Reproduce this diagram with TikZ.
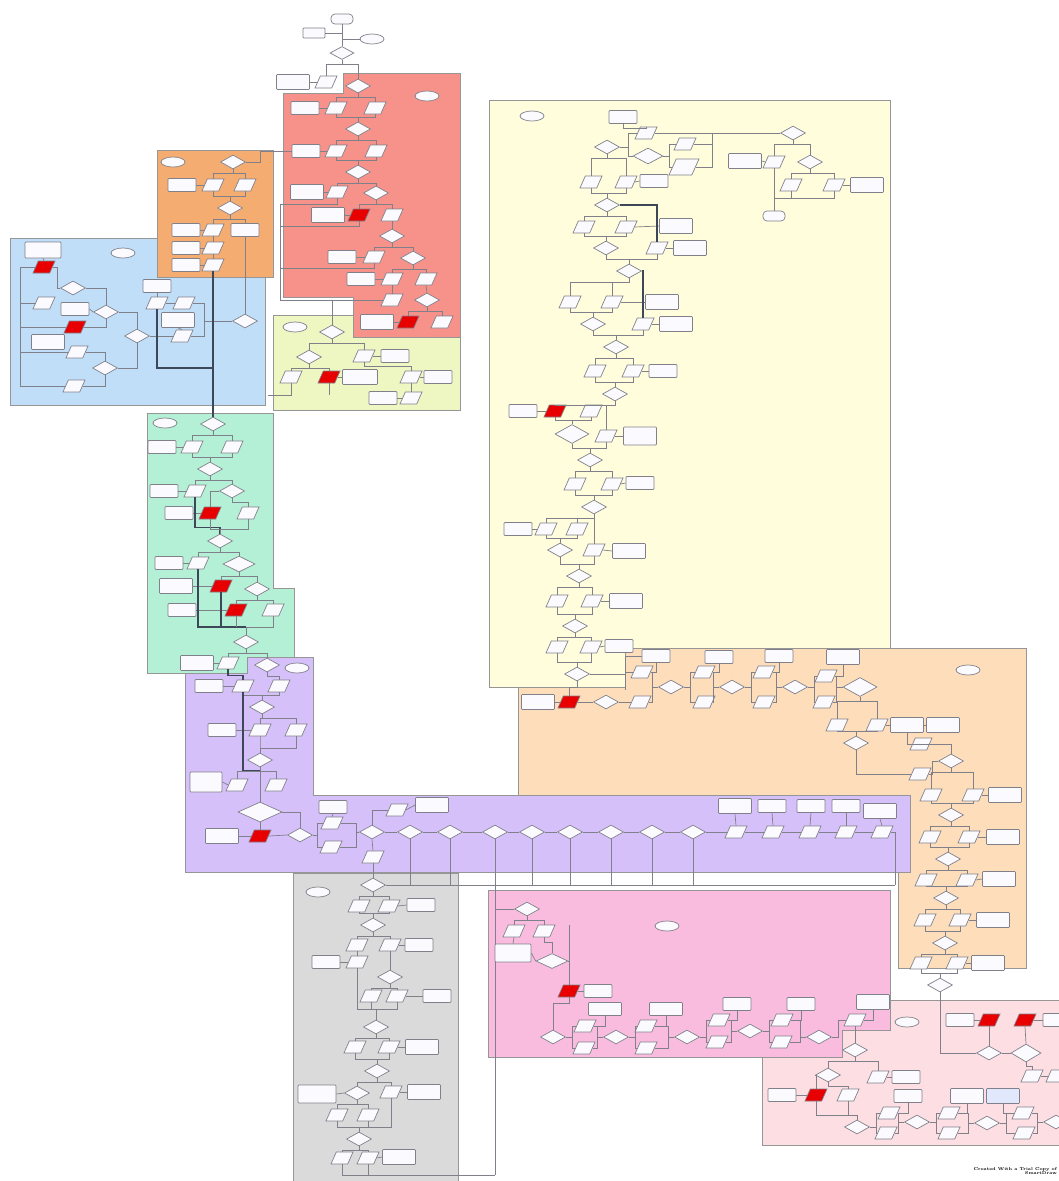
\documentclass[tikz,border=0pt]{standalone}
\usetikzlibrary{shapes.geometric,calc}
\definecolor{lineg}{RGB}{128,128,138}
\definecolor{regb}{RGB}{150,150,150}
\definecolor{thkc}{RGB}{60,72,88}
\definecolor{nfill}{RGB}{251,251,255}
\definecolor{cred}{RGB}{246,146,138}
\definecolor{corange}{RGB}{245,172,112}
\definecolor{cblue}{RGB}{192,222,248}
\definecolor{clgreen}{RGB}{238,246,194}
\definecolor{cyellow}{RGB}{255,253,220}
\definecolor{cmint}{RGB}{180,240,214}
\definecolor{cpurple}{RGB}{214,192,250}
\definecolor{cpeach}{RGB}{253,221,186}
\definecolor{cgrey}{RGB}{218,218,218}
\definecolor{cpink}{RGB}{250,188,222}
\definecolor{clpink}{RGB}{253,222,226}
\definecolor{rpfill}{RGB}{232,0,0}
\definecolor{lbfill}{RGB}{226,232,252}
\tikzset{
 region/.style={draw=regb, line width=1pt},
 nbase/.style={draw=lineg, line width=0.7pt, inner sep=1pt, fill=nfill},
 bx/.style={nbase, rectangle, rounded corners=0.8pt, minimum width=28pt, minimum height=13pt},
 wbx/.style={bx, minimum width=33pt, minimum height=15pt},
 pa/.style={nbase, trapezium, trapezium left angle=65, trapezium right angle=115, trapezium stretches=true, minimum width=22pt, minimum height=12pt},
 rp/.style={pa, fill=rpfill},
 di/.style={nbase, diamond, minimum width=25pt, minimum height=14pt},
 bigdi/.style={di, minimum width=34pt, minimum height=19pt},
 el/.style={nbase, ellipse, minimum width=24pt, minimum height=10pt},
 term/.style={nbase, rectangle, rounded corners=4pt, minimum width=22pt, minimum height=10pt},
 ln/.style={draw=lineg, line width=0.7pt},
 thk/.style={draw=thkc, line width=1.6pt},
}
\newcommand\xsplit[2]{\draw[ln] (#1.south) -- ([yshift=-4pt]#1.south) -| (#2.north);}
\newcommand\xmerge[2]{\draw[ln] (#1.south) |- ([yshift=4pt]#2.north) -- (#2.north);}
\newcommand\xlink[2]{\draw[ln] (#1) -- (#2);}
\newcommand\xin[2]{\draw[ln] (#1.east) -| ([xshift=-6pt]#2.west) -- (#2.west);}
\newcommand\xout[2]{\draw[ln] (#1.east) -- ([xshift=6pt]#1.east) |- (#2.west);}
\newcommand\xdrop[2]{\draw[ln] (#1.south) |- (#2.east);}
\begin{document}
\begin{tikzpicture}[x=1pt,y=-1pt]
\useasboundingbox (0,0) rectangle (1059,1181);
\fill[white] (0,0) rectangle (1059,1181);
% ---------------- regions ----------------
\filldraw[region, fill=clpink] (762,1000) rectangle (1064,1145);
\filldraw[region, fill=cpink] (488,890) -- (890,890) -- (890,1030) -- (842,1030) -- (842,1057) -- (488,1057) -- cycle;
\filldraw[region, fill=cgrey] (293,873) rectangle (458,1190);
\filldraw[region, fill=cpeach] (518,648) -- (1026,648) -- (1026,968) -- (898,968) -- (898,795) -- (518,795) -- cycle;
\filldraw[region, fill=cyellow] (489,100) -- (890,100) -- (890,648) -- (625,648) -- (625,687) -- (489,687) -- cycle;
\filldraw[region, fill=cpurple] (247,657) -- (313,657) -- (313,795) -- (910,795) -- (910,872) -- (185,872) -- (185,673) -- (247,673) -- cycle;
\filldraw[region, fill=cblue] (10,238) rectangle (265,405);
\filldraw[region, fill=corange] (157,150) rectangle (273,277);
\filldraw[region, fill=clgreen] (273,315) rectangle (460,410);
\filldraw[region, fill=cred] (343,73) -- (460,73) -- (460,337) -- (353,337) -- (353,297) -- (283,297) -- (283,93) -- (343,93) -- cycle;
\filldraw[region, fill=cmint] (147,413) -- (273,413) -- (273,588) -- (294,588) -- (294,657) -- (247,657) -- (247,673) -- (147,673) -- cycle;
% ---------------- top ----------------
\node[term] (t0) at (342,19) {};
\node[bx, minimum width=22pt, minimum height=10pt] (t1) at (314,33) {};
\node[el, minimum width=24pt] (t2) at (372,39) {};
\node[di, minimum width=24pt, minimum height=13pt] (t3) at (342,53) {};
\xlink{t0.south}{t3.north}
\draw[ln] (t1.east) -- (t1.east -| t0.south);
\draw[ln] (t2.west) -- (t2.west -| t0.south);
% ---------------- red ----------------
\node[wbx] (r1) at (293,82) {};
\node[pa] (r2) at (326,82) {};
\node[di] (r3) at (358,86) {};
\node[el] (r0) at (427,96) {};
\node[bx] (r4) at (305,108) {};
\node[pa] (r5) at (336,108) {};
\node[pa] (r6) at (375,108) {};
\node[di] (r7) at (358,129) {};
\node[bx] (r8) at (306,151) {};
\node[pa] (r9) at (336,151) {};
\node[pa] (r10) at (376,151) {};
\node[di] (r11) at (358,172) {};
\node[wbx] (r12) at (307,192) {};
\node[pa] (r13) at (337,192) {};
\node[di] (r14) at (376,193) {};
\node[wbx] (r15) at (328,215) {};
\node[rp] (r16) at (359,215) {};
\node[pa] (r17) at (392,215) {};
\node[di] (r18) at (392,236) {};
\node[bx] (r19) at (342,257) {};
\node[pa] (r20) at (374,257) {};
\node[di] (r21) at (413,258) {};
\node[bx] (r22) at (361,279) {};
\node[pa] (r23) at (392,279) {};
\node[pa] (r24) at (426,279) {};
\node[pa] (r25) at (392,300) {};
\node[di] (r26) at (427,300) {};
\node[wbx] (r27) at (377,322) {};
\node[rp] (r28) at (408,322) {};
\node[pa] (r29) at (442,322) {};
\xsplit{t3}{r2} \xsplit{t3}{r3} \xlink{r1.east}{r2.west}
\xsplit{r3}{r5} \xsplit{r3}{r6} \xlink{r4.east}{r5.west}
\xmerge{r5}{r7} \xmerge{r6}{r7}
\xsplit{r7}{r9} \xsplit{r7}{r10} \xlink{r8.east}{r9.west}
\xmerge{r9}{r11} \xmerge{r10}{r11}
\xsplit{r11}{r13} \xsplit{r11}{r14} \xlink{r12.east}{r13.west}
\xsplit{r14}{r16} \xsplit{r14}{r17} \xlink{r15.east}{r16.west}
\xlink{r17.south}{r18.north}
\xsplit{r18}{r20} \xsplit{r18}{r21} \xlink{r19.east}{r20.west}
\xsplit{r21}{r23} \xsplit{r21}{r24} \xlink{r22.east}{r23.west}
\xlink{r23.south}{r25.north} \xlink{r24.south}{r26.north}
\xsplit{r26}{r28} \xsplit{r26}{r29} \xlink{r27.east}{r28.west}
\coordinate (ra) at (280,204);
\coordinate (rb) at (280,226);
\coordinate (rc) at (280,268);
\coordinate (rd) at (280,300);
\draw[ln] (r13.south) |- (ra);
\draw[ln] (r16.south) |- (rb);
\draw[ln] (r20.south) |- (rc);
\draw[ln] (r25.west) -- (rd);
\draw[ln] (ra) -- (rd);
% ---------------- orange ----------------
\node[el] (o0) at (173,162) {};
\node[di] (o1) at (233,162) {};
\node[bx] (o2) at (182,185) {};
\node[pa] (o3) at (213,185) {};
\node[pa] (o4) at (245,185) {};
\node[di] (o5) at (230,208) {};
\node[bx] (o6) at (186,230) {};
\node[pa] (o7) at (213,230) {};
\node[bx] (o8) at (245,230) {};
\node[bx] (o9) at (186,248) {};
\node[pa] (o10) at (213,248) {};
\node[bx] (o11) at (186,265) {};
\node[pa] (o12) at (213,265) {};
\xsplit{o1}{o3} \xsplit{o1}{o4} \xlink{o2.east}{o3.west}
\xmerge{o3}{o5} \xmerge{o4}{o5}
\xsplit{o5}{o7} \xsplit{o5}{o8} \xlink{o6.east}{o7.west}
\xlink{o7.south}{o10.north} \xlink{o9.east}{o10.west}
\xlink{o10.south}{o12.north} \xlink{o11.east}{o12.west}
\draw[ln] (o1.east) -- ([xshift=14pt]o1.east) |- (r8.west);
% ---------------- blue ----------------
\node[el] (b0) at (123,253) {};
\node[wbx, minimum width=36pt, minimum height=16pt] (b1) at (43,250) {};
\node[rp] (b2) at (44,267) {};
\node[di] (b3) at (73,288) {};
\node[pa] (b4) at (44,303) {};
\node[bx] (b5) at (75,309) {};
\node[di] (b6) at (106,312) {};
\node[rp] (b7) at (75,327) {};
\node[wbx] (b8) at (48,342) {};
\node[di] (b9) at (137,336) {};
\node[pa] (b10) at (77,352) {};
\node[di] (b11) at (105,368) {};
\node[pa] (b12) at (74,386) {};
\node[bx] (b13) at (157,286) {};
\node[pa] (b14) at (157,303) {};
\node[pa] (b15) at (184,303) {};
\node[wbx] (b16) at (178,320) {};
\node[pa] (b17) at (182,336) {};
\node[di] (b18) at (245,321) {};
\coordinate (bl1) at (20,267);
\coordinate (bl2) at (20,386);
\draw[ln] (bl1) -- (bl2);
\foreach \n in {b2,b4,b7,b10,b12} {\draw[ln] (\n.west) -- (\n.west -| bl1);}
\xlink{b1.south}{b2.north}
\draw[ln] (b2.east) -- ([xshift=5pt]b2.east) |- (b3.west);
\draw[ln] (b3.east) -| (b6.north);
\xlink{b5.east}{b6.west}
\draw[ln] (b7.east) -| (b6.south);
\draw[ln] (b6.east) -| (b9.north);
\draw[ln] (b10.east) -| (b11.north);
\draw[ln] (b12.east) -| (b11.south);
\draw[ln] (b11.east) -| (b9.south);
\draw[ln] (b9.east) -- (b17.west);
\xlink{b13.south}{b14.north}
\xlink{b14.east}{b15.west}
\xlink{b16.south}{b17.north}
\coordinate (bq) at (204,321);
\draw[ln] (b15.east) -| (bq) -- (b18.west);
\draw[ln] (b17.east) -| (bq);
\draw[ln] (o8.south) -- (b18.north);
% ---------------- light green ----------------
\node[el] (g0) at (295,327) {};
\node[di] (g1) at (332,332) {};
\node[di] (g2) at (309,357) {};
\node[pa] (g3) at (364,356) {};
\node[bx] (g7) at (395,356) {};
\node[pa] (g4) at (291,377) {};
\node[rp] (g5) at (329,377) {};
\node[wbx, minimum width=35pt] (g6) at (360,377) {};
\node[pa] (g8) at (411,377) {};
\node[bx] (g9) at (438,377) {};
\node[bx] (g10) at (383,398) {};
\node[pa] (g11) at (411,398) {};
\draw[ln] (g1.north) -- (g1.north |- rd);
\xsplit{g1}{g2} \xsplit{g1}{g3}
\xsplit{g2}{g4} \xsplit{g2}{g5}
\xlink{g5.east}{g6.west}
\xlink{g3.east}{g7.west}
\draw[ln] (g3.south) -- ([yshift=-4pt]g3.south) -| (g8.north);
\xlink{g8.east}{g9.west}
\xlink{g8.south}{g11.north}
\xlink{g10.east}{g11.west}
\coordinate (gl) at (268,395);
\draw[ln] (g4.south) |- (gl);
\draw[ln] (g5.south) -- (g5.south |- gl);
% ---------------- mint ----------------
\node[el] (m0) at (165,423) {};
\node[di] (m1) at (213,424) {};
\node[bx] (m2) at (162,447) {};
\node[pa] (m3) at (192,447) {};
\node[pa] (m4) at (232,447) {};
\node[di] (m5) at (210,469) {};
\node[bx] (m6) at (164,491) {};
\node[pa] (m7) at (195,491) {};
\node[di] (m8) at (232,491) {};
\node[bx] (m9) at (179,513) {};
\node[rp] (m10) at (210,513) {};
\node[pa] (m11) at (248,513) {};
\node[di] (m12) at (220,541) {};
\node[bx] (m13) at (169,563) {};
\node[pa] (m14) at (198,563) {};
\node[di, minimum width=32pt, minimum height=16pt] (m15) at (239,564) {};
\node[wbx] (m16) at (176,586) {};
\node[rp] (m17) at (221,586) {};
\node[di] (m18) at (257,589) {};
\node[bx] (m19) at (182,610) {};
\node[rp] (m20) at (236,610) {};
\node[pa] (m21) at (273,610) {};
\node[di] (m22) at (246,642) {};
\node[wbx] (m23) at (197,663) {};
\node[pa] (m24) at (228,663) {};
\draw[thk] (o12.south) -- (m1.north);
\coordinate (bj) at (213,368);
\draw[thk] (b14.south) |- (bj);
\xsplit{m1}{m3} \xsplit{m1}{m4} \xlink{m2.east}{m3.west}
\xmerge{m3}{m5} \xmerge{m4}{m5}
\xsplit{m5}{m7} \xsplit{m5}{m8} \xlink{m6.east}{m7.west}
\xsplit{m8}{m11}
\draw[ln] (m8.west) -| (m10.north);
\xlink{m9.east}{m10.west}
\draw[thk] (m7.south) |- ([yshift=6pt]m12.north) -- (m12.north);
\xmerge{m10}{m12} \xmerge{m11}{m12}
\xsplit{m12}{m14} \xsplit{m12}{m15} \xlink{m13.east}{m14.west}
\xsplit{m15}{m17} \xsplit{m15}{m18} \xlink{m16.east}{m17.west}
\xsplit{m18}{m20} \xsplit{m18}{m21} \xlink{m19.east}{m20.west}
\coordinate (mj) at (246,627);
\draw[thk] (m14.south) |- (mj);
\draw[thk] (m17.south) -- (m17.south |- mj);
\draw[ln] (m20.south) -- (m20.south |- mj);
\draw[ln] (m21.south) |- (mj);
\draw[ln] (mj) -- (m22.north);
% ---------------- purple ----------------
\node[el] (p0) at (297,668) {};
\node[di] (p1) at (267,665) {};
\node[bx] (p2) at (209,686) {};
\node[pa] (p3) at (243,686) {};
\node[pa] (p4) at (279,686) {};
\node[di] (p5) at (262,707) {};
\node[bx] (p6) at (222,730) {};
\node[pa] (p7) at (260,730) {};
\node[pa] (p8) at (296,730) {};
\node[di] (p9) at (260,760) {};
\node[wbx, minimum width=32pt, minimum height=20pt] (p10) at (206,782) {};
\node[pa] (p11) at (237,785) {};
\node[pa] (p12) at (276,785) {};
\node[bigdi, minimum width=44pt, minimum height=20pt] (p13) at (260,812) {};
\node[wbx] (p14) at (222,836) {};
\node[rp] (p15) at (260,836) {};
\node[di] (p16) at (300,835) {};
\node[bx] (p17) at (333,807) {};
\node[pa] (p18) at (332,823) {};
\node[pa] (p19) at (331,847) {};
\node[di] (p20) at (372,832) {};
\node[pa] (p21) at (397,810) {};
\node[wbx] (p22) at (432,805) {};
\node[pa] (p23) at (373,857) {};
\node[di] (p24) at (410,832) {};
\node[di] (p25) at (450,832) {};
\node[di] (p26) at (495,832) {};
\node[di] (p27) at (532,832) {};
\node[di] (p28) at (570,832) {};
\node[di] (p29) at (611,832) {};
\node[di] (p30) at (652,832) {};
\node[di] (p31) at (693,832) {};
\node[pa] (p32) at (736,832) {};
\node[pa] (p33) at (773,832) {};
\node[pa] (p34) at (810,832) {};
\node[pa] (p35) at (846,832) {};
\node[pa] (p36) at (882,832) {};
\node[wbx] (p37) at (735,806) {};
\node[bx] (p38) at (772,806) {};
\node[bx] (p39) at (811,806) {};
\node[bx] (p40) at (846,806) {};
\node[wbx] (p41) at (880,811) {};
\xsplit{m22}{m24} \xsplit{m22}{p1} \xlink{m23.east}{m24.west}
\draw[thk] (m24.south) -- ([yshift=-6pt]m24.south) -| (p3.north);
\xsplit{p1}{p4} \xlink{p2.east}{p3.west}
\xmerge{p3}{p5} \xmerge{p4}{p5}
\xsplit{p5}{p7} \xsplit{p5}{p8} \xlink{p6.east}{p7.west}
\xmerge{p7}{p9} \xmerge{p8}{p9}
\draw[thk] (p3.south) |- ([yshift=-3pt]p9.south);
\xsplit{p9}{p11} \xsplit{p9}{p12} \xlink{p10.east}{p11.west}
\xlink{p9.south}{p13.north}
\xlink{p13.south}{p15.north}
\xlink{p14.east}{p15.west} \xlink{p15.east}{p16.west}
\draw[ln] (p13.east) -| (p16.north);
\coordinate (pu) at (317,835);
\draw[ln] (p16.east) -- (pu);
\draw[ln] (pu) |- (p18.west);
\draw[ln] (pu) |- (p19.west);
\xlink{p17.south}{p18.north}
\coordinate (pv) at (356,832);
\draw[ln] (p18.east) -| (pv);
\draw[ln] (p19.east) -| (pv);
\draw[ln] (pv) -- (p20.west);
\draw[ln] (p20.north) |- (p21.west);
\xlink{p21.east}{p22.west}
\xlink{p20.south}{p23.north}
\xlink{p20.east}{p24.west} \xlink{p24.east}{p25.west} \xlink{p25.east}{p26.west}
\xlink{p26.east}{p27.west} \xlink{p27.east}{p28.west} \xlink{p28.east}{p29.west}
\xlink{p29.east}{p30.west} \xlink{p30.east}{p31.west} \xlink{p31.east}{p32.west}
\xlink{p32.east}{p33.west} \xlink{p33.east}{p34.west} \xlink{p34.east}{p35.west}
\xlink{p35.east}{p36.west}
\xlink{p37.south}{p32.north} \xlink{p38.south}{p33.north} \xlink{p39.south}{p34.north}
\xlink{p40.south}{p35.north} \xlink{p41.south}{p36.north}
% ---------------- grey ----------------
\node[el] (k0) at (318,892) {};
\node[di] (k1) at (373,885) {};
\node[pa] (k2) at (359,906) {};
\node[pa] (k3) at (389,906) {};
\node[bx] (k4) at (421,905) {};
\node[di] (k5) at (373,925) {};
\node[pa] (k6) at (357,945) {};
\node[pa] (k7) at (390,945) {};
\node[bx] (k8) at (419,945) {};
\node[bx] (k9) at (326,962) {};
\node[pa] (k10) at (357,962) {};
\node[di] (k11) at (390,977) {};
\node[pa] (k12) at (371,996) {};
\node[pa] (k13) at (397,996) {};
\node[bx] (k14) at (437,996) {};
\node[di] (k15) at (376,1027) {};
\node[pa] (k16) at (355,1047) {};
\node[pa] (k17) at (389,1047) {};
\node[wbx] (k18) at (422,1047) {};
\node[di] (k19) at (377,1071) {};
\node[wbx, minimum width=38pt, minimum height=18pt] (k20) at (317,1094) {};
\node[di] (k21) at (357,1093) {};
\node[pa] (k22) at (391,1092) {};
\node[wbx] (k23) at (424,1092) {};
\node[pa] (k24) at (337,1115) {};
\node[pa] (k25) at (368,1115) {};
\node[di] (k26) at (359,1139) {};
\node[pa] (k27) at (342,1158) {};
\node[pa] (k28) at (368,1158) {};
\node[wbx] (k29) at (399,1157) {};
\xlink{p23.south}{k1.north}
\coordinate (hz) at (895,885);
\draw[ln] (k1.east) -- (hz);
\draw[ln] (p36.east) -| (hz);
\foreach \n in {p24,p25,p27,p28,p29,p30,p31} {\draw[ln] (\n.south) -- (\n.south |- hz);}
\xsplit{k1}{k2} \xsplit{k1}{k3} \xlink{k3.east}{k4.west}
\xmerge{k2}{k5} \xmerge{k3}{k5}
\xsplit{k5}{k6} \xsplit{k5}{k7} \xlink{k7.east}{k8.west}
\xlink{k6.south}{k10.north} \xlink{k9.east}{k10.west}
\xlink{k7.south}{k11.north}
\xsplit{k11}{k12} \xsplit{k11}{k13} \xlink{k13.east}{k14.west}
\coordinate (km) at (376,1009);
\draw[ln] (k10.south) |- (km);
\draw[ln] (k12.south) |- (km);
\draw[ln] (k13.south) |- (km);
\draw[ln] (km) -- (k15.north);
\xsplit{k15}{k16} \xsplit{k15}{k17} \xlink{k17.east}{k18.west}
\xmerge{k16}{k19} \xmerge{k17}{k19}
\xsplit{k19}{k21} \xsplit{k19}{k22}
\xlink{k20.east}{k21.west} \xlink{k22.east}{k23.west}
\xsplit{k21}{k24} \xsplit{k21}{k25}
\xmerge{k24}{k26} \xmerge{k25}{k26} \xmerge{k22}{k26}
\xsplit{k26}{k27} \xsplit{k26}{k28} \xlink{k28.east}{k29.west}
\coordinate (kb) at (495,1175);
\draw[ln] (k27.south) |- (kb);
\draw[ln] (k28.south) -- (k28.south |- kb);
\draw[ln] (p26.south) -- (kb);
% ---------------- yellow ----------------
\node[el] (y0) at (532,116) {};
\node[bx] (y1) at (623,117) {};
\node[pa] (y2) at (646,133) {};
\node[di] (y3) at (607,147) {};
\node[di, minimum width=30pt, minimum height=16pt] (y4) at (648,156) {};
\node[pa] (y5) at (685,144) {};
\node[pa, minimum width=30pt, minimum height=16pt] (y6) at (684,167) {};
\node[di] (y7) at (793,133) {};
\node[wbx] (y8) at (745,161) {};
\node[pa] (y9) at (774,162) {};
\node[di] (y10) at (810,162) {};
\node[pa] (y11) at (591,182) {};
\node[pa] (y12) at (626,182) {};
\node[bx] (y13) at (654,181) {};
\node[pa] (y14) at (791,185) {};
\node[pa] (y15) at (834,185) {};
\node[wbx] (y16) at (867,185) {};
\node[term] (y17t) at (774,216) {};
\node[di] (y17) at (607,205) {};
\node[pa] (y19) at (584,227) {};
\node[pa] (y20) at (626,227) {};
\node[wbx] (y21) at (676,226) {};
\node[di] (y22) at (606,248) {};
\node[pa] (y23) at (657,248) {};
\node[wbx] (y24) at (690,248) {};
\node[di] (y25) at (629,271) {};
\node[pa] (y26) at (570,302) {};
\node[pa] (y27) at (612,302) {};
\node[wbx] (y28) at (662,302) {};
\node[di] (y29) at (593,324) {};
\node[pa] (y30) at (643,324) {};
\node[wbx] (y31) at (676,324) {};
\node[di] (y32) at (616,347) {};
\node[pa] (y33) at (595,371) {};
\node[pa] (y34) at (633,371) {};
\node[bx] (y35) at (663,371) {};
\node[di] (y36) at (615,394) {};
\node[bx] (y37) at (523,411) {};
\node[rp] (y38) at (555,411) {};
\node[pa] (y39) at (591,411) {};
\node[bigdi] (y40) at (572,434) {};
\node[pa] (y41) at (606,436) {};
\node[wbx, minimum height=18pt] (y42) at (640,436) {};
\node[di] (y43) at (590,460) {};
\node[pa] (y44) at (575,484) {};
\node[pa] (y45) at (612,484) {};
\node[bx] (y46) at (640,483) {};
\node[di] (y47) at (594,507) {};
\node[bx] (y48) at (518,529) {};
\node[pa] (y49) at (546,529) {};
\node[pa] (y50) at (577,529) {};
\node[di] (y51) at (560,550) {};
\node[pa] (y52) at (594,550) {};
\node[wbx] (y53) at (629,551) {};
\node[di] (y54) at (579,576) {};
\node[pa] (y55) at (557,601) {};
\node[pa] (y56) at (592,601) {};
\node[wbx] (y57) at (626,601) {};
\node[di] (y58) at (575,626) {};
\node[pa] (y59) at (557,647) {};
\node[pa] (y60) at (591,647) {};
\node[bx] (y61) at (619,646) {};
\node[di] (y62) at (577,674) {};
\draw[ln] (y1.south) -- ([yshift=-4pt]y1.south) -| (y2.north);
\xlink{y2.east}{y7.west}
\coordinate (yv) at (712,133);
\draw[ln] (y5.east) -| (yv);
\draw[ln] (y6.east) -| (yv);
\draw[ln] (y3.east) -- ([xshift=8pt]y3.east) |- (y2.west);
\draw[ln] (y3.east) -- ([xshift=8pt]y3.east) |- (y4.west);
\xout{y4}{y5} \xout{y4}{y6}
\xsplit{y3}{y11} \xsplit{y3}{y12} \xlink{y12.east}{y13.west}
\xmerge{y11}{y17} \xmerge{y12}{y17}
\xsplit{y7}{y9} \xsplit{y7}{y10} \xlink{y8.east}{y9.west}
\xsplit{y10}{y14} \xsplit{y10}{y15} \xlink{y15.east}{y16.west}
\coordinate (yq) at (774,198);
\xlink{y9.south}{y17t.north}
\draw[ln] (y15.south) |- (yq);
\draw[ln] (y14.south) -- (y14.south |- yq);
\xsplit{y17}{y19} \xsplit{y17}{y20} \xlink{y20.east}{y21.west}
\draw[thk] (y17.east) -| (y23.north);
\xlink{y23.east}{y24.west}
\xmerge{y19}{y22} \xmerge{y20}{y22}
\xmerge{y22}{y25} \xmerge{y23}{y25}
\xsplit{y25}{y26} \xsplit{y25}{y27} \xlink{y27.east}{y28.west}
\draw[thk] (y25.east) -| (y30.north);
\xlink{y30.east}{y31.west}
\xmerge{y26}{y29} \xmerge{y27}{y29}
\xmerge{y29}{y32} \xmerge{y30}{y32}
\xsplit{y32}{y33} \xsplit{y32}{y34} \xlink{y34.east}{y35.west}
\xmerge{y33}{y36} \xmerge{y34}{y36}
\xsplit{y36}{y38} \xsplit{y36}{y39} \xsplit{y36}{y41} \xlink{y37.east}{y38.west}
\xmerge{y38}{y40} \xmerge{y39}{y40}
\xlink{y41.east}{y42.west}
\xmerge{y40}{y43} \xmerge{y41}{y43}
\xsplit{y43}{y44} \xsplit{y43}{y45} \xlink{y45.east}{y46.west}
\xmerge{y44}{y47} \xmerge{y45}{y47}
\xsplit{y47}{y49} \xsplit{y47}{y50} \xlink{y48.east}{y49.west}
\xlink{y47.south}{y52.north}
\xmerge{y49}{y51} \xmerge{y50}{y51} \xlink{y52.east}{y53.west}
\xmerge{y51}{y54} \xmerge{y52}{y54}
\xsplit{y54}{y55} \xsplit{y54}{y56} \xlink{y56.east}{y57.west}
\xmerge{y55}{y58} \xmerge{y56}{y58}
\xsplit{y58}{y59} \xsplit{y58}{y60} \xlink{y60.east}{y61.west}
\xmerge{y59}{y62} \xmerge{y60}{y62}
% ---------------- peach ----------------
\node[el] (e0) at (968,670) {};
\node[wbx] (e1) at (538,702) {};
\node[rp] (e2) at (569,702) {};
\node[di] (e3) at (606,702) {};
\node[pa] (e4) at (640,702) {};
\node[bx] (e5) at (656,656) {};
\node[pa] (e6) at (642,672) {};
\node[di] (e7) at (671,687) {};
\node[bx] (e8) at (719,657) {};
\node[pa] (e9) at (704,672) {};
\node[pa] (e10) at (704,702) {};
\node[di] (e11) at (732,687) {};
\node[bx] (e12) at (779,656) {};
\node[pa] (e13) at (764,672) {};
\node[pa] (e14) at (764,702) {};
\node[di] (e15) at (795,687) {};
\node[wbx] (e16) at (843,657) {};
\node[pa] (e17) at (826,676) {};
\node[pa] (e18) at (824,702) {};
\node[bigdi] (e19) at (860,687) {};
\node[pa] (e20) at (837,725) {};
\node[pa] (e21) at (877,725) {};
\node[wbx] (e22) at (907,725) {};
\node[wbx] (e23) at (943,725) {};
\node[di] (e24) at (856,743) {};
\node[pa] (e25) at (921,744) {};
\node[di] (e26) at (951,761) {};
\node[pa] (e27) at (920,774) {};
\node[pa] (e28) at (931,795) {};
\node[pa] (e29) at (973,795) {};
\node[wbx] (e30) at (1005,795) {};
\node[di] (e31) at (951,815) {};
\node[pa] (e32) at (930,837) {};
\node[pa] (e33) at (969,837) {};
\node[wbx] (e34) at (1003,837) {};
\node[di] (e35) at (948,859) {};
\node[pa] (e36) at (926,880) {};
\node[pa] (e37) at (967,880) {};
\node[wbx] (e38) at (999,879) {};
\node[di] (e39) at (946,898) {};
\node[pa] (e40) at (925,920) {};
\node[pa] (e41) at (960,920) {};
\node[wbx] (e42) at (993,920) {};
\node[di] (e43) at (945,943) {};
\node[pa] (e44) at (921,963) {};
\node[pa] (e45) at (957,963) {};
\node[wbx] (e46) at (988,963) {};
\node[di] (e47) at (940,985) {};
\coordinate (ev1) at (625,656);
\coordinate (ev2) at (625,690);
\draw[ln] (y62.east) -- (y62.east -| ev1);
\draw[ln] (ev1) -- (ev2);
\draw[ln] (ev1) -- (e5.west);
\draw[ln] (e6.west) -- (e6.west -| ev1);
\draw[ln] (y62.south) -- ([yshift=-6pt]y62.south) -| (e2.north);
\xlink{e1.east}{e2.west} \xlink{e2.east}{e3.west} \xlink{e3.east}{e4.west}
\xdrop{e5}{e6} \xin{e4}{e7} \xin{e6}{e7}
\xout{e7}{e9} \xout{e7}{e10} \xdrop{e8}{e9} \xin{e9}{e11} \xin{e10}{e11}
\xout{e11}{e13} \xout{e11}{e14} \xdrop{e12}{e13} \xin{e13}{e15} \xin{e14}{e15}
\xout{e15}{e17} \xout{e15}{e18} \xdrop{e16}{e17} \xin{e17}{e19} \xin{e18}{e19}
\xsplit{e19}{e20} \xsplit{e19}{e21} \xlink{e21.east}{e22.west} \xlink{e22.east}{e23.west}
\xmerge{e20}{e24} \xmerge{e21}{e24}
\draw[ln] (e24.south) |- (e27.west);
\draw[ln] (e22.south) |- (e25.east);
\draw[ln] (e25.east) -| (e26.north);
\xin{e27}{e26}
\xsplit{e26}{e28} \xsplit{e26}{e29} \xlink{e29.east}{e30.west}
\xmerge{e28}{e31} \xmerge{e29}{e31}
\xsplit{e31}{e32} \xsplit{e31}{e33} \xlink{e33.east}{e34.west}
\xmerge{e32}{e35} \xmerge{e33}{e35}
\xsplit{e35}{e36} \xsplit{e35}{e37} \xlink{e37.east}{e38.west}
\xmerge{e36}{e39} \xmerge{e37}{e39}
\xsplit{e39}{e40} \xsplit{e39}{e41} \xlink{e41.east}{e42.west}
\xmerge{e40}{e43} \xmerge{e41}{e43}
\xsplit{e43}{e44} \xsplit{e43}{e45} \xlink{e45.east}{e46.west}
\xmerge{e44}{e47} \xmerge{e45}{e47}
% ---------------- pink ----------------
\node[el] (q0) at (667,926) {};
\node[di] (q1) at (527,909) {};
\node[pa] (q2) at (514,931) {};
\node[pa] (q3) at (544,931) {};
\node[wbx, minimum width=36pt, minimum height=18pt] (q4) at (513,953) {};
\node[di, minimum width=32pt, minimum height=15pt] (q5) at (552,961) {};
\node[rp] (q6) at (569,991) {};
\node[bx] (q7) at (598,991) {};
\node[di] (q8) at (553,1037) {};
\node[wbx, minimum height=13pt] (q9) at (605,1009) {};
\node[pa] (q10) at (585,1026) {};
\node[pa] (q11) at (584,1048) {};
\node[di] (q12) at (616,1037) {};
\node[wbx, minimum height=13pt] (q13) at (666,1009) {};
\node[pa] (q14) at (646,1026) {};
\node[pa] (q15) at (646,1048) {};
\node[di] (q16) at (687,1037) {};
\node[bx] (q17) at (737,1004) {};
\node[pa] (q18) at (719,1020) {};
\node[pa] (q19) at (717,1042) {};
\node[di] (q20) at (750,1031) {};
\node[bx] (q21) at (801,1004) {};
\node[pa] (q22) at (782,1020) {};
\node[pa] (q23) at (781,1042) {};
\node[di] (q24) at (819,1037) {};
\node[wbx] (q25) at (873,1002) {};
\node[pa] (q26) at (855,1020) {};
\node[di] (q27) at (855,1050) {};
\draw[ln] (q1.west) -- (q1.west -| kb);
\xsplit{q1}{q2} \xsplit{q1}{q3}
\xlink{q2.south}{q4.north}
\draw[ln] (q3.south) -- ([yshift=-5pt]q3.south) -| (q5.north);
\xlink{q4.east}{q5.west}
\coordinate (qa) at (569,925);
\draw[ln] (qa) -- (q6.north);
\draw[ln] (q5.east) -- (q5.east -| qa);
\xlink{q6.east}{q7.west}
\draw[ln] (q6.south) -- ([yshift=-6pt]q6.south) -| (q8.north);
\xout{q8}{q10} \xout{q8}{q11} \xdrop{q9}{q10} \xin{q10}{q12} \xin{q11}{q12}
\xout{q12}{q14} \xout{q12}{q15} \xdrop{q13}{q14} \xin{q14}{q16} \xin{q15}{q16}
\xout{q16}{q18} \xout{q16}{q19} \xdrop{q17}{q18} \xin{q18}{q20} \xin{q19}{q20}
\xout{q20}{q22} \xout{q20}{q23} \xdrop{q21}{q22} \xin{q22}{q24} \xin{q23}{q24}
\xout{q24}{q26} \xdrop{q25}{q26} \xlink{q26.south}{q27.north}
% ---------------- light pink ----------------
\node[el] (l0) at (907,1022) {};
\node[bx] (l1) at (960,1020) {};
\node[rp] (l2) at (989,1020) {};
\node[rp] (l3) at (1025,1020) {};
\node[bx] (l4) at (1057,1020) {};
\node[di] (l5) at (989,1053) {};
\node[di, minimum width=30pt, minimum height=18pt] (l6) at (1026,1053) {};
\node[di] (l7) at (828,1075) {};
\node[pa] (l8) at (878,1077) {};
\node[bx] (l9) at (906,1077) {};
\node[bx] (l10) at (782,1095) {};
\node[rp] (l11) at (816,1095) {};
\node[pa] (l12) at (848,1095) {};
\node[bx] (l13) at (908,1096) {};
\node[pa] (l14) at (889,1113) {};
\node[pa] (l15) at (886,1133) {};
\node[di] (l16) at (857,1127) {};
\node[di] (l17) at (917,1122) {};
\node[wbx] (l18) at (967,1096) {};
\node[wbx, fill=lbfill] (l19) at (1003,1096) {};
\node[pa] (l20) at (949,1113) {};
\node[pa] (l21) at (949,1133) {};
\node[di] (l22) at (987,1123) {};
\node[pa] (l23) at (1023,1113) {};
\node[pa] (l24) at (1024,1133) {};
\node[di] (l25) at (1056,1122) {};
\node[pa] (l26) at (1032,1076) {};
\node[pa] (l27) at (1057,1076) {};
\draw[ln] (e47.south) |- (l5.west);
\xlink{l1.east}{l2.west} \xlink{l3.east}{l4.west}
\xlink{l2.south}{l5.north} \xlink{l3.south}{l6.north}
\xlink{l5.east}{l6.west}
\xsplit{q27}{l7} \xsplit{q27}{l8} \xlink{l8.east}{l9.west}
\draw[ln] (l7.west) -| (l11.north);
\xsplit{l7}{l12}
\xlink{l10.east}{l11.west}
\xmerge{l11}{l16} \xmerge{l12}{l16}
\xout{l16}{l14} \xout{l16}{l15} \xdrop{l13}{l14}
\xin{l14}{l17} \xin{l15}{l17}
\xout{l17}{l20} \xout{l17}{l21} \xdrop{l18}{l20}
\xin{l20}{l22} \xin{l21}{l22}
\xout{l22}{l23} \xout{l22}{l24}
\draw[ln] (l19.south) |- (l23.west);
\xin{l23}{l25} \xin{l24}{l25}
\xsplit{l6}{l26} \xlink{l26.east}{l27.west}
% ---------------- footer ----------------
\node[anchor=east, inner sep=0pt, align=right, font=\fontsize{4.2}{4.8}\selectfont\bfseries] (wm) at (1057,1171) {Created With a Trial Copy of\\SmartDraw};
\end{tikzpicture}
\end{document}
